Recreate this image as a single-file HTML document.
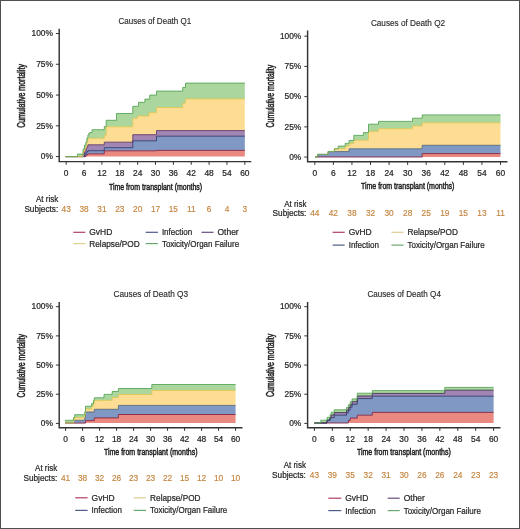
<!DOCTYPE html>
<html><head><meta charset="utf-8"><style>
html,body{margin:0;padding:0;background:#fff;}
body{width:520px;height:529px;overflow:hidden;}
svg{display:block;font-family:"Liberation Sans", sans-serif;will-change:transform;}
</style></head><body>
<svg width="520" height="529" viewBox="0 0 520 529">
<rect x="0.5" y="0.5" width="519" height="528" fill="#fff" stroke="#505050" stroke-width="1"/>
<path d="M65.6,156.6 H85.9 V155.3 H86.9 V154.5 H87.9 V153.8 H104.3 V150.8 H156.5 V150.4 H244.82 V156.6 H65.6 Z" fill="#e98980" stroke="none"/>
<path d="M65.6,156.6 H84.5 V154.6 H85.9 V152.7 H86.9 V151.7 H87.9 V150.7 H104.3 V147.7 H132.8 V140.8 H156.5 V136.2 H244.82 V150.4 H156.5 V150.8 H104.3 V153.8 H87.9 V154.5 H86.9 V155.3 H85.9 V156.6 H65.6 Z" fill="#8098c4" stroke="none"/>
<path d="M65.6,156.6 H83.1 V154.0 H84.5 V151.4 H85.9 V148.6 H86.9 V146.7 H87.9 V144.8 H104.3 V142.2 H132.8 V134.7 H156.5 V130.6 H244.82 V136.2 H156.5 V140.8 H132.8 V147.7 H104.3 V150.7 H87.9 V151.7 H86.9 V152.7 H85.9 V154.6 H84.5 V156.6 H65.6 Z" fill="#a186b3" stroke="none"/>
<path d="M65.6,156.6 H83.1 V151.6 H84.5 V148.6 H85.9 V145.2 H86.9 V141.7 H87.9 V138.3 H104.3 V135.3 H106.2 V126.8 H132.8 V118.3 H137.5 V116.0 H149.0 V112.7 H156.5 V107.5 H182.7 V103.2 H185.5 V98.9 H244.82 V130.6 H156.5 V134.7 H132.8 V142.2 H104.3 V144.8 H87.9 V146.7 H86.9 V148.6 H85.9 V151.4 H84.5 V154.0 H83.1 V156.6 H65.6 Z" fill="#fddd93" stroke="none"/>
<path d="M65.6,156.6 H77.4 V154.1 H83.1 V149.0 H84.5 V145.0 H85.9 V142.0 H86.9 V138.0 H87.9 V135.0 H88.8 V133.3 H89.8 V132.5 H92.1 V129.7 H104.3 V126.6 H106.2 V120.3 H116.5 V113.5 H132.8 V106.3 H138.5 V102.3 H144.9 V99.1 H149.7 V95.1 H156.5 V91.1 H182.7 V87.5 H185.5 V83.1 H244.82 V98.9 H185.5 V103.2 H182.7 V107.5 H156.5 V112.7 H149.0 V116.0 H137.5 V118.3 H132.8 V126.8 H106.2 V135.3 H104.3 V138.3 H87.9 V141.7 H86.9 V145.2 H85.9 V148.6 H84.5 V151.6 H83.1 V156.6 H65.6 Z" fill="#abd69d" stroke="none"/>
<path d="M65.6,156.6 H85.9 V155.3 H86.9 V154.5 H87.9 V153.8 H104.3 V150.8 H156.5 V150.4 H244.82" fill="none" stroke="#862442" stroke-width="1.0" stroke-opacity="0.9"/>
<path d="M65.6,156.6 H84.5 V154.6 H85.9 V152.7 H86.9 V151.7 H87.9 V150.7 H104.3 V147.7 H132.8 V140.8 H156.5 V136.2 H244.82" fill="none" stroke="#2e3a6c" stroke-width="1.0" stroke-opacity="0.9"/>
<path d="M65.6,156.6 H83.1 V154.0 H84.5 V151.4 H85.9 V148.6 H86.9 V146.7 H87.9 V144.8 H104.3 V142.2 H132.8 V134.7 H156.5 V130.6 H244.82" fill="none" stroke="#5e3466" stroke-width="1.0" stroke-opacity="0.9"/>
<path d="M65.6,156.6 H83.1 V151.6 H84.5 V148.6 H85.9 V145.2 H86.9 V141.7 H87.9 V138.3 H104.3 V135.3 H106.2 V126.8 H132.8 V118.3 H137.5 V116.0 H149.0 V112.7 H156.5 V107.5 H182.7 V103.2 H185.5 V98.9 H244.82" fill="none" stroke="#e0c852" stroke-width="1.0" stroke-opacity="0.9"/>
<path d="M65.6,156.6 H77.4 V154.1 H83.1 V149.0 H84.5 V145.0 H85.9 V142.0 H86.9 V138.0 H87.9 V135.0 H88.8 V133.3 H89.8 V132.5 H92.1 V129.7 H104.3 V126.6 H106.2 V120.3 H116.5 V113.5 H132.8 V106.3 H138.5 V102.3 H144.9 V99.1 H149.7 V95.1 H156.5 V91.1 H182.7 V87.5 H185.5 V83.1 H244.82" fill="none" stroke="#5aa65a" stroke-width="1.0" stroke-opacity="0.9"/>
<path d="M59.2,28.7 V161.6 H251.3" fill="none" stroke="#333333" stroke-width="1.45"/>
<path d="M55.900000000000006,156.60 H59.2" stroke="#333333" stroke-width="1"/>
<text x="52.900000000000006" y="159.30" font-size="8.4" text-anchor="end" fill="#262626" stroke="#262626" stroke-width="0.22">0%</text>
<path d="M55.900000000000006,125.82 H59.2" stroke="#333333" stroke-width="1"/>
<text x="52.900000000000006" y="128.52" font-size="8.4" text-anchor="end" fill="#262626" stroke="#262626" stroke-width="0.22">25%</text>
<path d="M55.900000000000006,95.05 H59.2" stroke="#333333" stroke-width="1"/>
<text x="52.900000000000006" y="97.75" font-size="8.4" text-anchor="end" fill="#262626" stroke="#262626" stroke-width="0.22">50%</text>
<path d="M55.900000000000006,64.28 H59.2" stroke="#333333" stroke-width="1"/>
<text x="52.900000000000006" y="66.98" font-size="8.4" text-anchor="end" fill="#262626" stroke="#262626" stroke-width="0.22">75%</text>
<path d="M55.900000000000006,33.50 H59.2" stroke="#333333" stroke-width="1"/>
<text x="52.900000000000006" y="36.20" font-size="8.4" text-anchor="end" fill="#262626" stroke="#262626" stroke-width="0.22">100%</text>
<path d="M66.20,161.6 V164.79999999999998" stroke="#333333" stroke-width="1"/>
<text x="66.20" y="175.60" font-size="8.4" text-anchor="middle" fill="#262626" stroke="#262626" stroke-width="0.22">0</text>
<path d="M84.06,161.6 V164.79999999999998" stroke="#333333" stroke-width="1"/>
<text x="84.06" y="175.60" font-size="8.4" text-anchor="middle" fill="#262626" stroke="#262626" stroke-width="0.22">6</text>
<path d="M101.92,161.6 V164.79999999999998" stroke="#333333" stroke-width="1"/>
<text x="101.92" y="175.60" font-size="8.4" text-anchor="middle" fill="#262626" stroke="#262626" stroke-width="0.22">12</text>
<path d="M119.79,161.6 V164.79999999999998" stroke="#333333" stroke-width="1"/>
<text x="119.79" y="175.60" font-size="8.4" text-anchor="middle" fill="#262626" stroke="#262626" stroke-width="0.22">18</text>
<path d="M137.65,161.6 V164.79999999999998" stroke="#333333" stroke-width="1"/>
<text x="137.65" y="175.60" font-size="8.4" text-anchor="middle" fill="#262626" stroke="#262626" stroke-width="0.22">24</text>
<path d="M155.51,161.6 V164.79999999999998" stroke="#333333" stroke-width="1"/>
<text x="155.51" y="175.60" font-size="8.4" text-anchor="middle" fill="#262626" stroke="#262626" stroke-width="0.22">30</text>
<path d="M173.37,161.6 V164.79999999999998" stroke="#333333" stroke-width="1"/>
<text x="173.37" y="175.60" font-size="8.4" text-anchor="middle" fill="#262626" stroke="#262626" stroke-width="0.22">36</text>
<path d="M191.23,161.6 V164.79999999999998" stroke="#333333" stroke-width="1"/>
<text x="191.23" y="175.60" font-size="8.4" text-anchor="middle" fill="#262626" stroke="#262626" stroke-width="0.22">42</text>
<path d="M209.10,161.6 V164.79999999999998" stroke="#333333" stroke-width="1"/>
<text x="209.10" y="175.60" font-size="8.4" text-anchor="middle" fill="#262626" stroke="#262626" stroke-width="0.22">48</text>
<path d="M226.96,161.6 V164.79999999999998" stroke="#333333" stroke-width="1"/>
<text x="226.96" y="175.60" font-size="8.4" text-anchor="middle" fill="#262626" stroke="#262626" stroke-width="0.22">54</text>
<path d="M244.82,161.6 V164.79999999999998" stroke="#333333" stroke-width="1"/>
<text x="244.82" y="175.60" font-size="8.4" text-anchor="middle" fill="#262626" stroke="#262626" stroke-width="0.22">60</text>
<text x="118.4" y="23.8" font-size="9.0" text-anchor="start" fill="#2a2a2a" textLength="72.9" lengthAdjust="spacingAndGlyphs" stroke="#2a2a2a" stroke-width="0.15">Causes of Death Q1</text>
<text x="108.9" y="189.5" font-size="9.9" text-anchor="start" fill="#222" textLength="93.29999999999998" lengthAdjust="spacingAndGlyphs" stroke="#222" stroke-width="0.5">Time from transplant (months)</text>
<text transform="translate(25.2,127.7) rotate(-90)" font-size="10" fill="#222" stroke="#222" stroke-width="0.5" textLength="63.6" lengthAdjust="spacingAndGlyphs">Cumulative mortality</text>
<text x="58.2" y="202.0" font-size="8.5" text-anchor="end" fill="#262626" textLength="22.2" lengthAdjust="spacingAndGlyphs" stroke="#262626" stroke-width="0.22">At risk</text>
<text x="58.2" y="211.8" font-size="8.5" text-anchor="end" fill="#262626" textLength="33.8" lengthAdjust="spacingAndGlyphs" stroke="#262626" stroke-width="0.22">Subjects:</text>
<text x="66.20" y="211.8" font-size="8.3" text-anchor="middle" fill="#c4843e" stroke="#c4843e" stroke-width="0.15">43</text>
<text x="84.06" y="211.8" font-size="8.3" text-anchor="middle" fill="#c4843e" stroke="#c4843e" stroke-width="0.15">38</text>
<text x="101.92" y="211.8" font-size="8.3" text-anchor="middle" fill="#c4843e" stroke="#c4843e" stroke-width="0.15">31</text>
<text x="119.79" y="211.8" font-size="8.3" text-anchor="middle" fill="#c4843e" stroke="#c4843e" stroke-width="0.15">23</text>
<text x="137.65" y="211.8" font-size="8.3" text-anchor="middle" fill="#c4843e" stroke="#c4843e" stroke-width="0.15">20</text>
<text x="155.51" y="211.8" font-size="8.3" text-anchor="middle" fill="#c4843e" stroke="#c4843e" stroke-width="0.15">17</text>
<text x="173.37" y="211.8" font-size="8.3" text-anchor="middle" fill="#c4843e" stroke="#c4843e" stroke-width="0.15">15</text>
<text x="191.23" y="211.8" font-size="8.3" text-anchor="middle" fill="#c4843e" stroke="#c4843e" stroke-width="0.15">11</text>
<text x="209.10" y="211.8" font-size="8.3" text-anchor="middle" fill="#c4843e" stroke="#c4843e" stroke-width="0.15">6</text>
<text x="226.96" y="211.8" font-size="8.3" text-anchor="middle" fill="#c4843e" stroke="#c4843e" stroke-width="0.15">4</text>
<text x="244.82" y="211.8" font-size="8.3" text-anchor="middle" fill="#c4843e" stroke="#c4843e" stroke-width="0.15">3</text>
<path d="M73.3,232.3 H85.3" stroke="#b04068" stroke-width="1.2"/>
<text x="89.3" y="235.30" font-size="8.5" text-anchor="start" fill="#262626" textLength="23.0" lengthAdjust="spacingAndGlyphs" stroke="#262626" stroke-width="0.22">GvHD</text>
<path d="M145.6,232.3 H157.9" stroke="#4e5a88" stroke-width="1.2"/>
<text x="161.9" y="235.30" font-size="8.5" text-anchor="start" fill="#262626" textLength="30.3" lengthAdjust="spacingAndGlyphs" stroke="#262626" stroke-width="0.22">Infection</text>
<path d="M201.5,232.3 H213.5" stroke="#6a4c80" stroke-width="1.2"/>
<text x="217.5" y="235.30" font-size="8.5" text-anchor="start" fill="#262626" textLength="21.2" lengthAdjust="spacingAndGlyphs" stroke="#262626" stroke-width="0.22">Other</text>
<path d="M73.3,243.6 H85.3" stroke="#dccf90" stroke-width="1.2"/>
<text x="89.3" y="246.60" font-size="8.5" text-anchor="start" fill="#262626" textLength="50.400000000000006" lengthAdjust="spacingAndGlyphs" stroke="#262626" stroke-width="0.22">Relapse/POD</text>
<path d="M145.6,243.6 H157.9" stroke="#6aa870" stroke-width="1.2"/>
<text x="161.9" y="246.60" font-size="8.5" text-anchor="start" fill="#262626" textLength="77.2" lengthAdjust="spacingAndGlyphs" stroke="#262626" stroke-width="0.22">Toxicity/Organ Failure</text>
<path d="M315.0,157.0 H422.2 V153.6 H500.5 V157.0 H315.0 Z" fill="#e98980" stroke="none"/>
<path d="M315.0,157.0 H317.5 V154.4 H328.1 V151.6 H349.1 V148.8 H422.2 V145.3 H500.5 V153.6 H422.2 V157.0 H315.0 Z" fill="#8098c4" stroke="none"/>
<path d="M315.0,157.0 H317.5 V154.4 H328.1 V151.6 H334.4 V148.8 H345.2 V146.0 H349.1 V143.4 H353.8 V140.2 H368.5 V131.4 H378.5 V128.8 H412.5 V126.0 H422.2 V122.8 H500.5 V145.3 H422.2 V148.8 H349.1 V151.6 H328.1 V154.4 H317.5 V157.0 H315.0 Z" fill="#fddd93" stroke="none"/>
<path d="M315.0,157.0 H317.5 V154.4 H328.1 V151.6 H334.4 V148.8 H338.2 V146.1 H345.2 V143.4 H349.1 V140.5 H353.8 V135.4 H363.4 V132.6 H368.5 V124.2 H378.5 V121.4 H412.5 V118.2 H422.2 V114.9 H500.5 V122.8 H422.2 V126.0 H412.5 V128.8 H378.5 V131.4 H368.5 V140.2 H353.8 V143.4 H349.1 V146.0 H345.2 V148.8 H334.4 V151.6 H328.1 V154.4 H317.5 V157.0 H315.0 Z" fill="#abd69d" stroke="none"/>
<path d="M315.0,157.0 H422.2 V153.6 H500.5" fill="none" stroke="#862442" stroke-width="1.0" stroke-opacity="0.9"/>
<path d="M315.0,157.0 H317.5 V154.4 H328.1 V151.6 H349.1 V148.8 H422.2 V145.3 H500.5" fill="none" stroke="#52687e" stroke-width="1.0" stroke-opacity="0.9"/>
<path d="M315.0,157.0 H317.5 V154.4 H328.1 V151.6 H334.4 V148.8 H345.2 V146.0 H349.1 V143.4 H353.8 V140.2 H368.5 V131.4 H378.5 V128.8 H412.5 V126.0 H422.2 V122.8 H500.5" fill="none" stroke="#e0c852" stroke-width="1.0" stroke-opacity="0.9"/>
<path d="M315.0,157.0 H317.5 V154.4 H328.1 V151.6 H334.4 V148.8 H338.2 V146.1 H345.2 V143.4 H349.1 V140.5 H353.8 V135.4 H363.4 V132.6 H368.5 V124.2 H378.5 V121.4 H412.5 V118.2 H422.2 V114.9 H500.5" fill="none" stroke="#5aa65a" stroke-width="1.0" stroke-opacity="0.9"/>
<path d="M307.6,30.6 V161.7 H507.5" fill="none" stroke="#333333" stroke-width="1.45"/>
<path d="M304.3,157.10 H307.6" stroke="#333333" stroke-width="1"/>
<text x="301.3" y="159.80" font-size="8.4" text-anchor="end" fill="#262626" stroke="#262626" stroke-width="0.22">0%</text>
<path d="M304.3,126.88 H307.6" stroke="#333333" stroke-width="1"/>
<text x="301.3" y="129.57" font-size="8.4" text-anchor="end" fill="#262626" stroke="#262626" stroke-width="0.22">25%</text>
<path d="M304.3,96.65 H307.6" stroke="#333333" stroke-width="1"/>
<text x="301.3" y="99.35" font-size="8.4" text-anchor="end" fill="#262626" stroke="#262626" stroke-width="0.22">50%</text>
<path d="M304.3,66.42 H307.6" stroke="#333333" stroke-width="1"/>
<text x="301.3" y="69.12" font-size="8.4" text-anchor="end" fill="#262626" stroke="#262626" stroke-width="0.22">75%</text>
<path d="M304.3,36.20 H307.6" stroke="#333333" stroke-width="1"/>
<text x="301.3" y="38.90" font-size="8.4" text-anchor="end" fill="#262626" stroke="#262626" stroke-width="0.22">100%</text>
<path d="M314.80,161.7 V164.89999999999998" stroke="#333333" stroke-width="1"/>
<text x="314.80" y="175.90" font-size="8.4" text-anchor="middle" fill="#262626" stroke="#262626" stroke-width="0.22">0</text>
<path d="M333.37,161.7 V164.89999999999998" stroke="#333333" stroke-width="1"/>
<text x="333.37" y="175.90" font-size="8.4" text-anchor="middle" fill="#262626" stroke="#262626" stroke-width="0.22">6</text>
<path d="M351.94,161.7 V164.89999999999998" stroke="#333333" stroke-width="1"/>
<text x="351.94" y="175.90" font-size="8.4" text-anchor="middle" fill="#262626" stroke="#262626" stroke-width="0.22">12</text>
<path d="M370.51,161.7 V164.89999999999998" stroke="#333333" stroke-width="1"/>
<text x="370.51" y="175.90" font-size="8.4" text-anchor="middle" fill="#262626" stroke="#262626" stroke-width="0.22">18</text>
<path d="M389.08,161.7 V164.89999999999998" stroke="#333333" stroke-width="1"/>
<text x="389.08" y="175.90" font-size="8.4" text-anchor="middle" fill="#262626" stroke="#262626" stroke-width="0.22">24</text>
<path d="M407.65,161.7 V164.89999999999998" stroke="#333333" stroke-width="1"/>
<text x="407.65" y="175.90" font-size="8.4" text-anchor="middle" fill="#262626" stroke="#262626" stroke-width="0.22">30</text>
<path d="M426.22,161.7 V164.89999999999998" stroke="#333333" stroke-width="1"/>
<text x="426.22" y="175.90" font-size="8.4" text-anchor="middle" fill="#262626" stroke="#262626" stroke-width="0.22">36</text>
<path d="M444.79,161.7 V164.89999999999998" stroke="#333333" stroke-width="1"/>
<text x="444.79" y="175.90" font-size="8.4" text-anchor="middle" fill="#262626" stroke="#262626" stroke-width="0.22">42</text>
<path d="M463.36,161.7 V164.89999999999998" stroke="#333333" stroke-width="1"/>
<text x="463.36" y="175.90" font-size="8.4" text-anchor="middle" fill="#262626" stroke="#262626" stroke-width="0.22">48</text>
<path d="M481.93,161.7 V164.89999999999998" stroke="#333333" stroke-width="1"/>
<text x="481.93" y="175.90" font-size="8.4" text-anchor="middle" fill="#262626" stroke="#262626" stroke-width="0.22">54</text>
<path d="M500.50,161.7 V164.89999999999998" stroke="#333333" stroke-width="1"/>
<text x="500.50" y="175.90" font-size="8.4" text-anchor="middle" fill="#262626" stroke="#262626" stroke-width="0.22">60</text>
<text x="370.9" y="25.8" font-size="9.0" text-anchor="start" fill="#2a2a2a" textLength="74.2" lengthAdjust="spacingAndGlyphs" stroke="#2a2a2a" stroke-width="0.15">Causes of Death Q2</text>
<text x="360.9" y="189.1" font-size="9.9" text-anchor="start" fill="#222" textLength="93.5" lengthAdjust="spacingAndGlyphs" stroke="#222" stroke-width="0.5">Time from transplant (months)</text>
<text transform="translate(273.9,127.4) rotate(-90)" font-size="10" fill="#222" stroke="#222" stroke-width="0.5" textLength="62.6" lengthAdjust="spacingAndGlyphs">Cumulative mortality</text>
<text x="306.4" y="206.5" font-size="8.5" text-anchor="end" fill="#262626" textLength="22.2" lengthAdjust="spacingAndGlyphs" stroke="#262626" stroke-width="0.22">At risk</text>
<text x="306.4" y="216.2" font-size="8.5" text-anchor="end" fill="#262626" textLength="33.8" lengthAdjust="spacingAndGlyphs" stroke="#262626" stroke-width="0.22">Subjects:</text>
<text x="314.80" y="216.2" font-size="8.3" text-anchor="middle" fill="#c4843e" stroke="#c4843e" stroke-width="0.15">44</text>
<text x="333.37" y="216.2" font-size="8.3" text-anchor="middle" fill="#c4843e" stroke="#c4843e" stroke-width="0.15">42</text>
<text x="351.94" y="216.2" font-size="8.3" text-anchor="middle" fill="#c4843e" stroke="#c4843e" stroke-width="0.15">38</text>
<text x="370.51" y="216.2" font-size="8.3" text-anchor="middle" fill="#c4843e" stroke="#c4843e" stroke-width="0.15">32</text>
<text x="389.08" y="216.2" font-size="8.3" text-anchor="middle" fill="#c4843e" stroke="#c4843e" stroke-width="0.15">30</text>
<text x="407.65" y="216.2" font-size="8.3" text-anchor="middle" fill="#c4843e" stroke="#c4843e" stroke-width="0.15">28</text>
<text x="426.22" y="216.2" font-size="8.3" text-anchor="middle" fill="#c4843e" stroke="#c4843e" stroke-width="0.15">25</text>
<text x="444.79" y="216.2" font-size="8.3" text-anchor="middle" fill="#c4843e" stroke="#c4843e" stroke-width="0.15">19</text>
<text x="463.36" y="216.2" font-size="8.3" text-anchor="middle" fill="#c4843e" stroke="#c4843e" stroke-width="0.15">15</text>
<text x="481.93" y="216.2" font-size="8.3" text-anchor="middle" fill="#c4843e" stroke="#c4843e" stroke-width="0.15">13</text>
<text x="500.50" y="216.2" font-size="8.3" text-anchor="middle" fill="#c4843e" stroke="#c4843e" stroke-width="0.15">11</text>
<path d="M332.6,232.3 H344.7" stroke="#b04068" stroke-width="1.2"/>
<text x="348.7" y="235.30" font-size="8.5" text-anchor="start" fill="#262626" textLength="23.0" lengthAdjust="spacingAndGlyphs" stroke="#262626" stroke-width="0.22">GvHD</text>
<path d="M391.4,232.3 H403.5" stroke="#dccf90" stroke-width="1.2"/>
<text x="407.5" y="235.30" font-size="8.5" text-anchor="start" fill="#262626" textLength="50.400000000000006" lengthAdjust="spacingAndGlyphs" stroke="#262626" stroke-width="0.22">Relapse/POD</text>
<path d="M332.6,245.1 H344.7" stroke="#4e5a88" stroke-width="1.2"/>
<text x="348.7" y="248.10" font-size="8.5" text-anchor="start" fill="#262626" textLength="30.3" lengthAdjust="spacingAndGlyphs" stroke="#262626" stroke-width="0.22">Infection</text>
<path d="M391.4,245.1 H403.5" stroke="#6aa870" stroke-width="1.2"/>
<text x="407.5" y="248.10" font-size="8.5" text-anchor="start" fill="#262626" textLength="77.2" lengthAdjust="spacingAndGlyphs" stroke="#262626" stroke-width="0.22">Toxicity/Organ Failure</text>
<path d="M65.0,423.1 H85.5 V420.6 H94.3 V417.9 H118.4 V414.5 H235.58 V423.1 H65.0 Z" fill="#e98980" stroke="none"/>
<path d="M65.0,423.1 H73.5 V420.3 H84.7 V417.5 H85.5 V412.0 H94.3 V409.3 H118.4 V405.4 H235.58 V414.5 H118.4 V417.9 H94.3 V420.6 H85.5 V423.1 H65.0 Z" fill="#8098c4" stroke="none"/>
<path d="M65.0,423.1 H73.5 V420.3 H74.7 V417.5 H84.7 V414.6 H85.5 V409.0 H91.6 V406.4 H93.5 V403.5 H94.3 V400.6 H104.0 V400.4 H112.2 V397.5 H118.4 V394.5 H151.8 V390.5 H235.58 V405.4 H118.4 V409.3 H94.3 V412.0 H85.5 V417.5 H84.7 V420.3 H73.5 V423.1 H65.0 Z" fill="#fddd93" stroke="none"/>
<path d="M65.0,420.3 H73.5 V417.5 H74.7 V414.7 H84.7 V411.8 H85.5 V406.2 H91.6 V403.6 H93.5 V400.7 H94.3 V397.8 H104.0 V394.4 H112.2 V391.5 H118.4 V388.5 H151.8 V384.5 H235.58 V390.5 H151.8 V394.5 H118.4 V397.5 H112.2 V400.4 H104.0 V400.6 H94.3 V403.5 H93.5 V406.4 H91.6 V409.0 H85.5 V414.6 H84.7 V417.5 H74.7 V420.3 H73.5 V423.1 H65.0 Z" fill="#abd69d" stroke="none"/>
<path d="M65.0,423.1 H85.5 V420.6 H94.3 V417.9 H118.4 V414.5 H235.58" fill="none" stroke="#862442" stroke-width="1.0" stroke-opacity="0.9"/>
<path d="M65.0,423.1 H73.5 V420.3 H84.7 V417.5 H85.5 V412.0 H94.3 V409.3 H118.4 V405.4 H235.58" fill="none" stroke="#52687e" stroke-width="1.0" stroke-opacity="0.9"/>
<path d="M65.0,423.1 H73.5 V420.3 H74.7 V417.5 H84.7 V414.6 H85.5 V409.0 H91.6 V406.4 H93.5 V403.5 H94.3 V400.6 H104.0 V400.4 H112.2 V397.5 H118.4 V394.5 H151.8 V390.5 H235.58" fill="none" stroke="#e0c852" stroke-width="1.0" stroke-opacity="0.9"/>
<path d="M65.0,420.3 H73.5 V417.5 H74.7 V414.7 H84.7 V411.8 H85.5 V406.2 H91.6 V403.6 H93.5 V400.7 H94.3 V397.8 H104.0 V394.4 H112.2 V391.5 H118.4 V388.5 H151.8 V384.5 H235.58" fill="none" stroke="#5aa65a" stroke-width="1.0" stroke-opacity="0.9"/>
<path d="M59.2,301.9 V427.7 H242.5" fill="none" stroke="#333333" stroke-width="1.45"/>
<path d="M55.900000000000006,423.40 H59.2" stroke="#333333" stroke-width="1"/>
<text x="52.900000000000006" y="426.10" font-size="8.4" text-anchor="end" fill="#262626" stroke="#262626" stroke-width="0.22">0%</text>
<path d="M55.900000000000006,394.22 H59.2" stroke="#333333" stroke-width="1"/>
<text x="52.900000000000006" y="396.92" font-size="8.4" text-anchor="end" fill="#262626" stroke="#262626" stroke-width="0.22">25%</text>
<path d="M55.900000000000006,365.05 H59.2" stroke="#333333" stroke-width="1"/>
<text x="52.900000000000006" y="367.75" font-size="8.4" text-anchor="end" fill="#262626" stroke="#262626" stroke-width="0.22">50%</text>
<path d="M55.900000000000006,335.88 H59.2" stroke="#333333" stroke-width="1"/>
<text x="52.900000000000006" y="338.57" font-size="8.4" text-anchor="end" fill="#262626" stroke="#262626" stroke-width="0.22">75%</text>
<path d="M55.900000000000006,306.70 H59.2" stroke="#333333" stroke-width="1"/>
<text x="52.900000000000006" y="309.40" font-size="8.4" text-anchor="end" fill="#262626" stroke="#262626" stroke-width="0.22">100%</text>
<path d="M65.60,427.7 V430.9" stroke="#333333" stroke-width="1"/>
<text x="65.60" y="442.00" font-size="8.4" text-anchor="middle" fill="#262626" stroke="#262626" stroke-width="0.22">0</text>
<path d="M82.60,427.7 V430.9" stroke="#333333" stroke-width="1"/>
<text x="82.60" y="442.00" font-size="8.4" text-anchor="middle" fill="#262626" stroke="#262626" stroke-width="0.22">6</text>
<path d="M99.60,427.7 V430.9" stroke="#333333" stroke-width="1"/>
<text x="99.60" y="442.00" font-size="8.4" text-anchor="middle" fill="#262626" stroke="#262626" stroke-width="0.22">12</text>
<path d="M116.59,427.7 V430.9" stroke="#333333" stroke-width="1"/>
<text x="116.59" y="442.00" font-size="8.4" text-anchor="middle" fill="#262626" stroke="#262626" stroke-width="0.22">18</text>
<path d="M133.59,427.7 V430.9" stroke="#333333" stroke-width="1"/>
<text x="133.59" y="442.00" font-size="8.4" text-anchor="middle" fill="#262626" stroke="#262626" stroke-width="0.22">24</text>
<path d="M150.59,427.7 V430.9" stroke="#333333" stroke-width="1"/>
<text x="150.59" y="442.00" font-size="8.4" text-anchor="middle" fill="#262626" stroke="#262626" stroke-width="0.22">30</text>
<path d="M167.59,427.7 V430.9" stroke="#333333" stroke-width="1"/>
<text x="167.59" y="442.00" font-size="8.4" text-anchor="middle" fill="#262626" stroke="#262626" stroke-width="0.22">36</text>
<path d="M184.59,427.7 V430.9" stroke="#333333" stroke-width="1"/>
<text x="184.59" y="442.00" font-size="8.4" text-anchor="middle" fill="#262626" stroke="#262626" stroke-width="0.22">42</text>
<path d="M201.58,427.7 V430.9" stroke="#333333" stroke-width="1"/>
<text x="201.58" y="442.00" font-size="8.4" text-anchor="middle" fill="#262626" stroke="#262626" stroke-width="0.22">48</text>
<path d="M218.58,427.7 V430.9" stroke="#333333" stroke-width="1"/>
<text x="218.58" y="442.00" font-size="8.4" text-anchor="middle" fill="#262626" stroke="#262626" stroke-width="0.22">54</text>
<path d="M235.58,427.7 V430.9" stroke="#333333" stroke-width="1"/>
<text x="235.58" y="442.00" font-size="8.4" text-anchor="middle" fill="#262626" stroke="#262626" stroke-width="0.22">60</text>
<text x="113.5" y="296.9" font-size="9.0" text-anchor="start" fill="#2a2a2a" textLength="74.5" lengthAdjust="spacingAndGlyphs" stroke="#2a2a2a" stroke-width="0.15">Causes of Death Q3</text>
<text x="103.9" y="455.2" font-size="9.9" text-anchor="start" fill="#222" textLength="93.69999999999999" lengthAdjust="spacingAndGlyphs" stroke="#222" stroke-width="0.5">Time from transplant (months)</text>
<text transform="translate(25.2,397.4) rotate(-90)" font-size="10" fill="#222" stroke="#222" stroke-width="0.5" textLength="63.3" lengthAdjust="spacingAndGlyphs">Cumulative mortality</text>
<text x="57.3" y="471.1" font-size="8.5" text-anchor="end" fill="#262626" textLength="22.2" lengthAdjust="spacingAndGlyphs" stroke="#262626" stroke-width="0.22">At risk</text>
<text x="57.3" y="480.8" font-size="8.5" text-anchor="end" fill="#262626" textLength="33.8" lengthAdjust="spacingAndGlyphs" stroke="#262626" stroke-width="0.22">Subjects:</text>
<text x="65.60" y="480.8" font-size="8.3" text-anchor="middle" fill="#c4843e" stroke="#c4843e" stroke-width="0.15">41</text>
<text x="82.60" y="480.8" font-size="8.3" text-anchor="middle" fill="#c4843e" stroke="#c4843e" stroke-width="0.15">38</text>
<text x="99.60" y="480.8" font-size="8.3" text-anchor="middle" fill="#c4843e" stroke="#c4843e" stroke-width="0.15">32</text>
<text x="116.59" y="480.8" font-size="8.3" text-anchor="middle" fill="#c4843e" stroke="#c4843e" stroke-width="0.15">26</text>
<text x="133.59" y="480.8" font-size="8.3" text-anchor="middle" fill="#c4843e" stroke="#c4843e" stroke-width="0.15">23</text>
<text x="150.59" y="480.8" font-size="8.3" text-anchor="middle" fill="#c4843e" stroke="#c4843e" stroke-width="0.15">23</text>
<text x="167.59" y="480.8" font-size="8.3" text-anchor="middle" fill="#c4843e" stroke="#c4843e" stroke-width="0.15">22</text>
<text x="184.59" y="480.8" font-size="8.3" text-anchor="middle" fill="#c4843e" stroke="#c4843e" stroke-width="0.15">15</text>
<text x="201.58" y="480.8" font-size="8.3" text-anchor="middle" fill="#c4843e" stroke="#c4843e" stroke-width="0.15">12</text>
<text x="218.58" y="480.8" font-size="8.3" text-anchor="middle" fill="#c4843e" stroke="#c4843e" stroke-width="0.15">10</text>
<text x="235.58" y="480.8" font-size="8.3" text-anchor="middle" fill="#c4843e" stroke="#c4843e" stroke-width="0.15">10</text>
<path d="M75.2,497.8 H87.6" stroke="#b04068" stroke-width="1.2"/>
<text x="91.6" y="500.80" font-size="8.5" text-anchor="start" fill="#262626" textLength="23.0" lengthAdjust="spacingAndGlyphs" stroke="#262626" stroke-width="0.22">GvHD</text>
<path d="M133.7,497.8 H146.1" stroke="#dccf90" stroke-width="1.2"/>
<text x="150.1" y="500.80" font-size="8.5" text-anchor="start" fill="#262626" textLength="50.400000000000006" lengthAdjust="spacingAndGlyphs" stroke="#262626" stroke-width="0.22">Relapse/POD</text>
<path d="M75.2,510.4 H87.6" stroke="#4e5a88" stroke-width="1.2"/>
<text x="91.6" y="513.40" font-size="8.5" text-anchor="start" fill="#262626" textLength="30.3" lengthAdjust="spacingAndGlyphs" stroke="#262626" stroke-width="0.22">Infection</text>
<path d="M133.7,510.4 H146.1" stroke="#6aa870" stroke-width="1.2"/>
<text x="150.1" y="513.40" font-size="8.5" text-anchor="start" fill="#262626" textLength="77.2" lengthAdjust="spacingAndGlyphs" stroke="#262626" stroke-width="0.22">Toxicity/Organ Failure</text>
<path d="M314.3,423.0 H348.4 V420.5 H350.2 V418.1 H357.3 V415.2 H372.3 V412.4 H493.62 V423.0 H314.3 Z" fill="#e98980" stroke="none"/>
<path d="M314.3,423.0 H327.0 V420.2 H330.1 V417.6 H334.3 V415.2 H346.5 V412.8 H348.4 V410.1 H350.2 V407.2 H352.1 V404.3 H357.3 V398.6 H372.3 V396.2 H493.62 V412.4 H372.3 V415.2 H357.3 V418.1 H350.2 V420.5 H348.4 V423.0 H314.3 Z" fill="#8098c4" stroke="none"/>
<path d="M314.3,423.0 H327.0 V420.2 H330.1 V417.6 H331.2 V415.0 H334.3 V412.6 H346.5 V410.2 H348.4 V407.5 H350.2 V404.6 H352.1 V401.7 H357.3 V396.0 H372.3 V393.4 H444.8 V390.2 H493.62 V396.2 H372.3 V398.6 H357.3 V404.3 H352.1 V407.2 H350.2 V410.1 H348.4 V412.8 H346.5 V415.2 H334.3 V417.6 H330.1 V420.2 H327.0 V423.0 H314.3 Z" fill="#a186b3" stroke="none"/>
<path d="M314.3,423.0 H320.8 V420.2 H327.0 V417.4 H330.1 V414.8 H331.2 V412.2 H334.3 V409.8 H346.5 V407.4 H348.4 V404.7 H350.2 V401.8 H352.1 V398.9 H357.3 V393.2 H372.3 V390.6 H444.8 V387.4 H493.62 V390.2 H444.8 V393.4 H372.3 V396.0 H357.3 V401.7 H352.1 V404.6 H350.2 V407.5 H348.4 V410.2 H346.5 V412.6 H334.3 V415.0 H331.2 V417.6 H330.1 V420.2 H327.0 V423.0 H314.3 Z" fill="#abd69d" stroke="none"/>
<path d="M314.3,423.0 H348.4 V420.5 H350.2 V418.1 H357.3 V415.2 H372.3 V412.4 H493.62" fill="none" stroke="#862442" stroke-width="1.0" stroke-opacity="0.9"/>
<path d="M314.3,423.0 H327.0 V420.2 H330.1 V417.6 H334.3 V415.2 H346.5 V412.8 H348.4 V410.1 H350.2 V407.2 H352.1 V404.3 H357.3 V398.6 H372.3 V396.2 H493.62" fill="none" stroke="#2e3a6c" stroke-width="1.0" stroke-opacity="0.9"/>
<path d="M314.3,423.0 H327.0 V420.2 H330.1 V417.6 H331.2 V415.0 H334.3 V412.6 H346.5 V410.2 H348.4 V407.5 H350.2 V404.6 H352.1 V401.7 H357.3 V396.0 H372.3 V393.4 H444.8 V390.2 H493.62" fill="none" stroke="#3c3252" stroke-width="1.0" stroke-opacity="0.9"/>
<path d="M314.3,423.0 H320.8 V420.2 H327.0 V417.4 H330.1 V414.8 H331.2 V412.2 H334.3 V409.8 H346.5 V407.4 H348.4 V404.7 H350.2 V401.8 H352.1 V398.9 H357.3 V393.2 H372.3 V390.6 H444.8 V387.4 H493.62" fill="none" stroke="#5aa65a" stroke-width="1.0" stroke-opacity="0.9"/>
<path d="M307.6,301.9 V427.7 H500.5" fill="none" stroke="#333333" stroke-width="1.45"/>
<path d="M304.3,423.40 H307.6" stroke="#333333" stroke-width="1"/>
<text x="301.3" y="426.10" font-size="8.4" text-anchor="end" fill="#262626" stroke="#262626" stroke-width="0.22">0%</text>
<path d="M304.3,394.22 H307.6" stroke="#333333" stroke-width="1"/>
<text x="301.3" y="396.92" font-size="8.4" text-anchor="end" fill="#262626" stroke="#262626" stroke-width="0.22">25%</text>
<path d="M304.3,365.05 H307.6" stroke="#333333" stroke-width="1"/>
<text x="301.3" y="367.75" font-size="8.4" text-anchor="end" fill="#262626" stroke="#262626" stroke-width="0.22">50%</text>
<path d="M304.3,335.88 H307.6" stroke="#333333" stroke-width="1"/>
<text x="301.3" y="338.57" font-size="8.4" text-anchor="end" fill="#262626" stroke="#262626" stroke-width="0.22">75%</text>
<path d="M304.3,306.70 H307.6" stroke="#333333" stroke-width="1"/>
<text x="301.3" y="309.40" font-size="8.4" text-anchor="end" fill="#262626" stroke="#262626" stroke-width="0.22">100%</text>
<path d="M314.40,427.7 V430.9" stroke="#333333" stroke-width="1"/>
<text x="314.40" y="442.00" font-size="8.4" text-anchor="middle" fill="#262626" stroke="#262626" stroke-width="0.22">0</text>
<path d="M332.32,427.7 V430.9" stroke="#333333" stroke-width="1"/>
<text x="332.32" y="442.00" font-size="8.4" text-anchor="middle" fill="#262626" stroke="#262626" stroke-width="0.22">6</text>
<path d="M350.24,427.7 V430.9" stroke="#333333" stroke-width="1"/>
<text x="350.24" y="442.00" font-size="8.4" text-anchor="middle" fill="#262626" stroke="#262626" stroke-width="0.22">12</text>
<path d="M368.17,427.7 V430.9" stroke="#333333" stroke-width="1"/>
<text x="368.17" y="442.00" font-size="8.4" text-anchor="middle" fill="#262626" stroke="#262626" stroke-width="0.22">18</text>
<path d="M386.09,427.7 V430.9" stroke="#333333" stroke-width="1"/>
<text x="386.09" y="442.00" font-size="8.4" text-anchor="middle" fill="#262626" stroke="#262626" stroke-width="0.22">24</text>
<path d="M404.01,427.7 V430.9" stroke="#333333" stroke-width="1"/>
<text x="404.01" y="442.00" font-size="8.4" text-anchor="middle" fill="#262626" stroke="#262626" stroke-width="0.22">30</text>
<path d="M421.93,427.7 V430.9" stroke="#333333" stroke-width="1"/>
<text x="421.93" y="442.00" font-size="8.4" text-anchor="middle" fill="#262626" stroke="#262626" stroke-width="0.22">36</text>
<path d="M439.85,427.7 V430.9" stroke="#333333" stroke-width="1"/>
<text x="439.85" y="442.00" font-size="8.4" text-anchor="middle" fill="#262626" stroke="#262626" stroke-width="0.22">42</text>
<path d="M457.78,427.7 V430.9" stroke="#333333" stroke-width="1"/>
<text x="457.78" y="442.00" font-size="8.4" text-anchor="middle" fill="#262626" stroke="#262626" stroke-width="0.22">48</text>
<path d="M475.70,427.7 V430.9" stroke="#333333" stroke-width="1"/>
<text x="475.70" y="442.00" font-size="8.4" text-anchor="middle" fill="#262626" stroke="#262626" stroke-width="0.22">54</text>
<path d="M493.62,427.7 V430.9" stroke="#333333" stroke-width="1"/>
<text x="493.62" y="442.00" font-size="8.4" text-anchor="middle" fill="#262626" stroke="#262626" stroke-width="0.22">60</text>
<text x="367.4" y="296.9" font-size="9.0" text-anchor="start" fill="#2a2a2a" textLength="73.5" lengthAdjust="spacingAndGlyphs" stroke="#2a2a2a" stroke-width="0.15">Causes of Death Q4</text>
<text x="356.9" y="455.4" font-size="9.9" text-anchor="start" fill="#222" textLength="94.0" lengthAdjust="spacingAndGlyphs" stroke="#222" stroke-width="0.5">Time from transplant (months)</text>
<text transform="translate(274.4,397.0) rotate(-90)" font-size="10" fill="#222" stroke="#222" stroke-width="0.5" textLength="63.2" lengthAdjust="spacingAndGlyphs">Cumulative mortality</text>
<text x="305.9" y="468.0" font-size="8.5" text-anchor="end" fill="#262626" textLength="22.2" lengthAdjust="spacingAndGlyphs" stroke="#262626" stroke-width="0.22">At risk</text>
<text x="305.9" y="477.7" font-size="8.5" text-anchor="end" fill="#262626" textLength="33.8" lengthAdjust="spacingAndGlyphs" stroke="#262626" stroke-width="0.22">Subjects:</text>
<text x="314.40" y="477.7" font-size="8.3" text-anchor="middle" fill="#c4843e" stroke="#c4843e" stroke-width="0.15">43</text>
<text x="332.32" y="477.7" font-size="8.3" text-anchor="middle" fill="#c4843e" stroke="#c4843e" stroke-width="0.15">39</text>
<text x="350.24" y="477.7" font-size="8.3" text-anchor="middle" fill="#c4843e" stroke="#c4843e" stroke-width="0.15">35</text>
<text x="368.17" y="477.7" font-size="8.3" text-anchor="middle" fill="#c4843e" stroke="#c4843e" stroke-width="0.15">32</text>
<text x="386.09" y="477.7" font-size="8.3" text-anchor="middle" fill="#c4843e" stroke="#c4843e" stroke-width="0.15">31</text>
<text x="404.01" y="477.7" font-size="8.3" text-anchor="middle" fill="#c4843e" stroke="#c4843e" stroke-width="0.15">30</text>
<text x="421.93" y="477.7" font-size="8.3" text-anchor="middle" fill="#c4843e" stroke="#c4843e" stroke-width="0.15">26</text>
<text x="439.85" y="477.7" font-size="8.3" text-anchor="middle" fill="#c4843e" stroke="#c4843e" stroke-width="0.15">26</text>
<text x="457.78" y="477.7" font-size="8.3" text-anchor="middle" fill="#c4843e" stroke="#c4843e" stroke-width="0.15">24</text>
<text x="475.70" y="477.7" font-size="8.3" text-anchor="middle" fill="#c4843e" stroke="#c4843e" stroke-width="0.15">23</text>
<text x="493.62" y="477.7" font-size="8.3" text-anchor="middle" fill="#c4843e" stroke="#c4843e" stroke-width="0.15">23</text>
<path d="M328.3,498.2 H341.3" stroke="#b04068" stroke-width="1.2"/>
<text x="345.3" y="501.20" font-size="8.5" text-anchor="start" fill="#262626" textLength="23.0" lengthAdjust="spacingAndGlyphs" stroke="#262626" stroke-width="0.22">GvHD</text>
<path d="M387.7,498.2 H399.7" stroke="#6a4c80" stroke-width="1.2"/>
<text x="403.7" y="501.20" font-size="8.5" text-anchor="start" fill="#262626" textLength="21.2" lengthAdjust="spacingAndGlyphs" stroke="#262626" stroke-width="0.22">Other</text>
<path d="M328.3,510.6 H341.3" stroke="#4e5a88" stroke-width="1.2"/>
<text x="345.3" y="513.60" font-size="8.5" text-anchor="start" fill="#262626" textLength="30.3" lengthAdjust="spacingAndGlyphs" stroke="#262626" stroke-width="0.22">Infection</text>
<path d="M387.7,510.6 H399.7" stroke="#6aa870" stroke-width="1.2"/>
<text x="403.7" y="513.60" font-size="8.5" text-anchor="start" fill="#262626" textLength="77.2" lengthAdjust="spacingAndGlyphs" stroke="#262626" stroke-width="0.22">Toxicity/Organ Failure</text>
</svg>
</body></html>
